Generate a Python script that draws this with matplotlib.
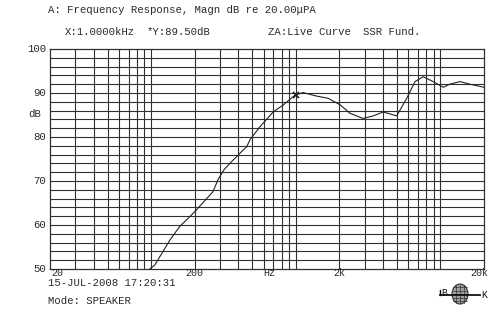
import numpy as np
import matplotlib
matplotlib.use("Agg")
import matplotlib.pyplot as plt
from matplotlib.patches import Ellipse

# Data
freq_hz = [98, 106, 135, 157, 200, 268, 289, 318, 350, 411, 458, 483, 564, 698,
           820, 986, 1124, 1392, 1672, 2030, 2366, 2920, 3430, 4020, 4980, 5850,
           6670, 7600, 8900, 10460, 11600, 13660, 16000, 20000]
level_db = [50.0, 50.9, 56.6, 59.6, 63.0, 67.6, 70.2, 72.5, 74.0, 76.3, 77.8, 79.4,
            82.3, 85.7, 87.3, 89.5, 90.1, 89.3, 88.8, 87.3, 85.4, 84.2, 84.8, 85.7,
            84.8, 88.8, 92.6, 93.7, 92.6, 91.3, 92.0, 92.6, 92.0, 91.3]
cursor_x = 1000
cursor_y = 89.5
ytick_vals = [50, 60, 70, 80, 90, 100]
xlabel_pos = [20, 200, 2000, 20000]
xlabel_txt = ["20", "200", "2k", "20k"]

title_line1 = "A: Frequency Response, Magn dB re 20.00\u03bcPA"
title_items = [("X:1.0000kHz", 65), ("*Y:89.50dB", 147), ("ZA:Live Curve", 268), ("SSR Fund.", 363)]

W, H = 500, 318
fig = plt.figure(figsize=(W / 100, H / 100), dpi=100)
fig.patch.set_facecolor("white")

x0, x1, y0, y1 = 50, 484, 49, 269
ax = fig.add_axes([x0 / W, 1 - y1 / H, (x1 - x0) / W, (y1 - y0) / H])
ax.set_xscale("log")
ax.set_xlim(20, 20000)
ax.set_ylim(50, 100)

gc = "#303030"
for v in np.arange(52, 100, 2):
    ax.axhline(v, color=gc, lw=0.8, zorder=1)
for dec in [10, 100, 1000, 10000]:
    for m in range(1, 10):
        f = dec * m
        if 20 < f < 20000:
            ax.axvline(f, color=gc, lw=0.8, zorder=1)

ax.plot(freq_hz, level_db, color="#222222", lw=0.8, zorder=3, clip_on=True)
ax.plot([cursor_x], [cursor_y], marker="x", ms=5, mew=1.2, color="#222222", zorder=4)

for s in ax.spines.values():
    s.set_color("#303030")
    s.set_linewidth(0.9)
ax.set_xticks([])
ax.set_yticks([])
ax.minorticks_off()

font = ["Liberation Mono", "DejaVu Sans Mono"]
tc = "#2a2a2a"
fs = 7.7

def px(x, y, s, ha="left", va="center", size=fs):
    fig.text(x / W, 1 - y / H, s, ha=ha, va=va, fontsize=size, family=font, color=tc)

for v in ytick_vals:
    yy = y0 + (100 - v) / 50 * (y1 - y0)
    px(46, yy, str(v), ha="right")
px(35, 114, "dB", ha="center")

def fx(f):
    return x0 + np.log10(f / 20) / 3 * (x1 - x0)
for f, t in zip(xlabel_pos, xlabel_txt):
    if f == 20:
        px(51, 273, t, ha="left", size=7.2)
    elif f == 20000:
        px(488, 273, t, ha="right", size=7.2)
    else:
        px(fx(f), 273, t, ha="center", size=7.2)
px(269, 273, "Hz", ha="center", size=7.2)

px(48, 10, title_line1)
for s, x in title_items:
    px(x, 32, s)

px(48, 283, "15-JUL-2008 17:20:31")
px(48, 301, "Mode: SPEAKER")

# B&K logo
lx0, ly0, lw_, lh_ = 434, 282, 56, 24
lax = fig.add_axes([lx0 / W, 1 - (ly0 + lh_) / H, lw_ / W, lh_ / H])
lax.set_xlim(0, lw_)
lax.set_ylim(0, lh_)
lax.axis("off")
cx, cy = 26, 12
lax.add_patch(Ellipse((cx, cy), 16, 20, facecolor="#a0a0a0", edgecolor="#333333", lw=0.8))
for yy in [5, 8.5, 12, 15.5, 19]:
    lax.plot([cx - 7, cx + 7], [yy, yy], color="#333333", lw=0.5)
for xx in [cx - 4, cx, cx + 4]:
    lax.plot([xx, xx], [3, 21], color="#333333", lw=0.5)
lax.plot([6, 46], [11, 11], color="#111111", lw=1.3)
lax.plot([6, 6], [11, 16], color="#111111", lw=1.0)
lax.text(10, 13, "B", fontsize=7, family=font, ha="center", va="center", color="#111111")
lax.text(50, 10.5, "K", fontsize=7, family=font, ha="center", va="center", color="#111111")

fig.savefig("out.png", dpi=100, facecolor="white")
